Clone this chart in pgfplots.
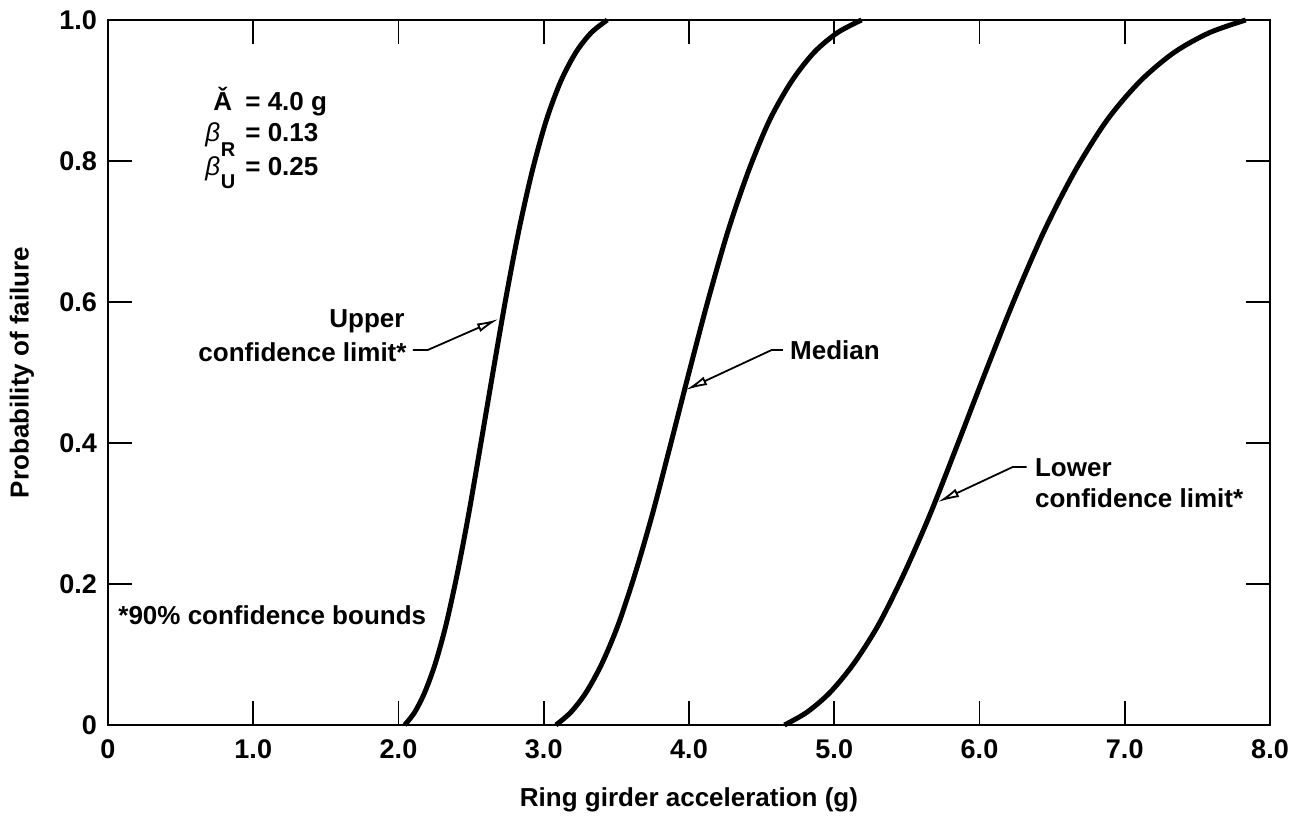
\documentclass[border=0pt]{standalone}
\usepackage{fontspec}
\setmainfont{Liberation Sans}
\usepackage{pgfplots}
\pgfplotsset{compat=1.18}
\usetikzlibrary{arrows.meta}
\newcommand{\lbl}{\fontsize{13}{15.6}\selectfont\bfseries}
\newcommand{\sub}{\fontsize{10}{12}\selectfont\bfseries}

\begin{document}
\begin{tikzpicture}
\begin{axis}[
  scale only axis, width=581pt, height=352.5pt,
  xmin=0, xmax=8, ymin=0, ymax=1,
  axis line style={line width=1.2pt},
  tick align=inside, tick pos=both,
  major tick length=12pt,
  major tick style={black, line width=0.8pt},
  xtick={0,1,2,3,4,5,6,7,8},
  xticklabels={0,1.0,2.0,3.0,4.0,5.0,6.0,7.0,8.0},
  ytick={0,0.2,0.4,0.6,0.8,1},
  yticklabels={0,0.2,0.4,0.6,0.8,1.0},
  ticklabel style={font=\fontsize{13.5}{16}\selectfont\bfseries},
  xticklabel style={yshift=-4pt},
  yticklabel style={xshift=-2pt},
  xlabel={Ring girder acceleration (g)},
  ylabel={Probability of failure},
  every axis x label/.style={at={(rel axis cs:0.5,-0.1064)}, anchor=center, font=\lbl},
  every axis y label/.style={at={(rel axis cs:-0.074,0.5)}, rotate=90, anchor=center, font=\lbl},
  clip=false,
]
% upper confidence limit
\addplot[black, line width=2.5pt, smooth] coordinates {
 (2.043,0) (2.111,0.018) (2.180,0.046) (2.253,0.087) (2.327,0.142)
 (2.404,0.214) (2.483,0.299) (2.565,0.397) (2.650,0.500) (2.737,0.603)
 (2.828,0.701) (2.921,0.786) (3.018,0.858) (3.117,0.913) (3.221,0.954)
 (3.327,0.982) (3.437,1.000)
};
% median
\addplot[black, line width=2.5pt, smooth] coordinates {
 (3.084,0) (3.186,0.018) (3.291,0.046) (3.400,0.087) (3.512,0.142)
 (3.628,0.214) (3.748,0.299) (3.872,0.397) (4.000,0.500) (4.132,0.603)
 (4.269,0.701) (4.410,0.786) (4.555,0.858) (4.706,0.913) (4.861,0.954)
 (5.022,0.982) (5.188,1.000)
};
% lower confidence limit
\addplot[black, line width=2.5pt, smooth] coordinates {
 (4.657,0) (4.811,0.018) (4.970,0.046) (5.134,0.087) (5.304,0.142)
 (5.479,0.214) (5.660,0.299) (5.847,0.397) (6.040,0.500) (6.239,0.603)
 (6.446,0.701) (6.658,0.786) (6.878,0.858) (7.105,0.913) (7.340,0.954)
 (7.583,0.982) (7.833,1.000)
};

% parameters
\node[anchor=base west, font=\lbl, inner sep=0pt] at (axis cs:0.723,0.872) {\v{A}};
\node[anchor=base west, font=\lbl, inner sep=0pt] at (axis cs:0.943,0.872) {= 4.0 g};
\node[anchor=base west, font=\lbl, inner sep=0pt] at (axis cs:0.668,0.827) {\textit{\mdseries β}};
\node[anchor=base west, font=\sub, inner sep=0pt] at (axis cs:0.775,0.806) {R};
\node[anchor=base west, font=\lbl, inner sep=0pt] at (axis cs:0.943,0.827) {= 0.13};
\node[anchor=base west, font=\lbl, inner sep=0pt] at (axis cs:0.668,0.780) {\textit{\mdseries β}};
\node[anchor=base west, font=\sub, inner sep=0pt] at (axis cs:0.775,0.761) {U};
\node[anchor=base west, font=\lbl, inner sep=0pt] at (axis cs:0.943,0.780) {= 0.25};

\node[anchor=base west, font=\lbl, inner sep=0pt] at (axis cs:0.069,0.142) {*90\% confidence bounds};

% labels with leaders
\node[anchor=base east, font=\lbl, inner sep=0pt] at (axis cs:2.044,0.5645) {Upper};
\node[anchor=base east, font=\lbl, inner sep=0pt] at (axis cs:2.058,0.5163) {confidence limit*};
\draw[line width=0.9pt, -{Latex[open,length=11pt,width=4.5pt]}]
  (axis cs:2.099,0.532) -- (axis cs:2.202,0.532) -- (axis cs:2.69,0.576);

\node[anchor=base west, font=\lbl, inner sep=0pt] at (axis cs:4.694,0.519) {Median};
\draw[line width=0.9pt, -{Latex[open,length=11pt,width=4.5pt]}]
  (axis cs:4.646,0.532) -- (axis cs:4.570,0.532) -- (axis cs:3.975,0.475);

\node[anchor=base west, font=\lbl, inner sep=0pt] at (axis cs:6.380,0.352) {Lower};
\node[anchor=base west, font=\lbl, inner sep=0pt] at (axis cs:6.380,0.308) {confidence limit*};
\draw[line width=0.9pt, -{Latex[open,length=11pt,width=4.5pt]}]
  (axis cs:6.325,0.366) -- (axis cs:6.229,0.366) -- (axis cs:5.71,0.316);
\end{axis}
\pgfresetboundingbox
\path ([shift={(-54pt,-45.5pt)}]current axis.south west) rectangle ([shift={(9.5pt,10pt)}]current axis.north east);
\end{tikzpicture}
\end{document}
